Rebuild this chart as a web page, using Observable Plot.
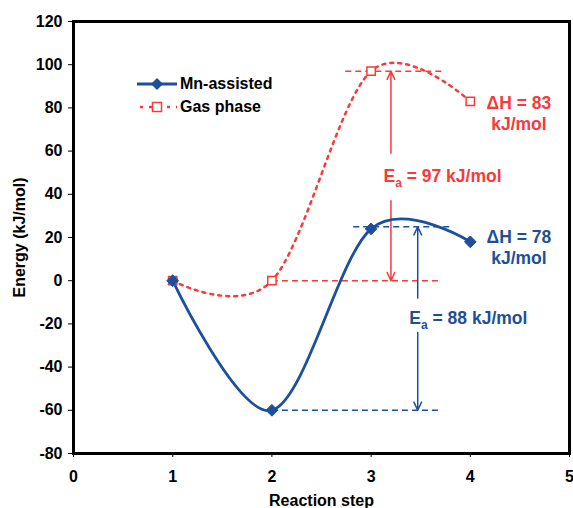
<!DOCTYPE html>
<html>
<head>
<meta charset="utf-8">
<script src="https://cdn.jsdelivr.net/npm/d3@7"></script>
<script src="https://cdn.jsdelivr.net/npm/@observablehq/plot@0.6"></script>
<style>
  body { margin: 0; background: #fff; }
  #wrap { position: relative; width: 573px; height: 508px; font-family: "Liberation Sans", Arial, sans-serif; }
  #legend { position: absolute; left: 137px; top: 72px; font-weight: bold; font-size: 16px; color: #000; }
  #legend .row { display: flex; align-items: center; height: 23px; }
  #legend svg { margin-right: 3px; }
</style>
</head>
<body>
<div id="wrap"></div>
<script>
// ---- data ----
const steps = [1, 2, 3, 4];
const mnEnergy = [0, -60, 24, 18];
const gasEnergy = [0, 0, 97, 83];
const seriesNames = ["Mn-assisted", "Gas phase"];
const xTicks = [0, 1, 2, 3, 4, 5];
const yTicks = [-80, -60, -40, -20, 0, 20, 40, 60, 80, 100, 120];

// reference (dashed) levels
const refSeries = ["gas", "gas", "mn", "mn"];
const refY = [97, 0, 25, -60];
const refXStart = [2.74, 2.0, 2.82, 2.0];
const refXEnd = [3.73, 3.70, 3.82, 3.68];

// arrows (energy spans, split around the label)
const arrSeries = ["gas", "gas", "mn", "mn"];
const arrX = [3.2, 3.2, 3.47, 3.47];
const arrFrom = [59, 37, -8, -24];
const arrTo = [97, 0, 25, -60];

// labels
const labSeries = ["gas", "gas", "mn", "mn"];
const labText = ["ΔH = 83\nkJ/mol", "Ea = 97 kJ/mol", "ΔH = 78\nkJ/mol", "Ea = 88 kJ/mol"];
const labX = [4.49, 3.72, 4.49, 3.98];
const labY = [77.8, 48.7, 15.8, -17];

const BLUE = "#1c4f9c";
const RED = "#f73a3a";
const col = s => s === "gas" ? RED : BLUE;

const mnData = steps.map((s, i) => ({x: s, y: mnEnergy[i]}));
const gasData = steps.map((s, i) => ({x: s, y: gasEnergy[i]}));
const refs = refY.map((y, i) => ({y, x1: refXStart[i], x2: refXEnd[i], s: refSeries[i]}));
const arrows = arrX.map((x, i) => ({x, y1: arrFrom[i], y2: arrTo[i], s: arrSeries[i]}));
const labels = labText.map((t, i) => ({t, x: labX[i], y: labY[i], s: labSeries[i]}));

const chart = Plot.plot({
  width: 573,
  height: 508,
  marginLeft: 73,
  marginTop: 21,
  marginRight: 4,
  marginBottom: 55,
  style: {fontFamily: "'Liberation Sans', Arial, sans-serif", fontSize: "16px", fontWeight: "bold", color: "#000", background: "#fff"},
  x: {domain: [0, 5]},
  y: {domain: [-80, 120]},
  marks: [
    Plot.axisY({ticks: yTicks, tickFormat: d => String(d), tickSize: 5, tickPadding: 6, fontSize: 16, fontWeight: "bold",
      label: "Energy (kJ/mol)", labelAnchor: "center", labelOffset: 60, labelArrow: "none"}),
    Plot.axisX({ticks: xTicks, tickFormat: d => String(d), tickSize: 4, tickPadding: 13, fontSize: 16, fontWeight: "bold",
      label: "Reaction step", labelAnchor: "center", labelOffset: 52, labelArrow: "none"}),
    Plot.link(refs.filter(d => d.s === "gas"), {x1: "x1", x2: "x2", y1: "y", y2: "y", stroke: RED, strokeWidth: 1.5, strokeDasharray: "6,4"}),
    Plot.link(refs.filter(d => d.s === "mn"), {x1: "x1", x2: "x2", y1: "y", y2: "y", stroke: BLUE, strokeWidth: 1.5, strokeDasharray: "6,4"}),
    Plot.arrow(arrows, {x: "x", y1: "y1", y2: "y2", stroke: d => col(d.s), strokeWidth: 1.5, headLength: 9, headAngle: 50}),
    Plot.line(gasData, {x: "x", y: "y", curve: "cardinal", tension: 0, stroke: RED, strokeWidth: 2.5, strokeDasharray: "3,5"}),
    Plot.line(mnData, {x: "x", y: "y", curve: "cardinal", tension: 0, stroke: BLUE, strokeWidth: 2.8}),
    Plot.dot(gasData, {x: "x", y: "y", symbol: "square", r: 4.7, fill: "white", stroke: RED, strokeWidth: 1.5}),
    Plot.dot(mnData, {x: "x", y: "y", symbol: "diamond2", r: 5.3, fill: BLUE, stroke: BLUE, strokeWidth: 1}),
    Plot.text(labels, {x: "x", y: "y", text: "t", fill: d => col(d.s), fontSize: 17.5, fontWeight: "bold", lineHeight: 1.2, textAnchor: "middle"}),
    Plot.frame({stroke: "black", strokeWidth: 3})
  ]
});

// subscript "a" in E_a labels
d3.select(chart).selectAll("text").each(function() {
  const t = this.textContent;
  if (/^Ea = /.test(t) && this.childElementCount === 0) {
    const sel = d3.select(this);
    sel.text(null);
    sel.append("tspan").text("E");
    sel.append("tspan").attr("dy", 5).attr("font-size", "12px").text("a");
    sel.append("tspan").attr("dy", -5).text(t.slice(2));
  }
});

const wrap = document.getElementById("wrap");
wrap.appendChild(chart);

// legend
const legend = document.createElement("div");
legend.id = "legend";
legend.innerHTML =
  `<div class="row"><svg width="40" height="14"><line x1="0" x2="40" y1="7" y2="7" stroke="${BLUE}" stroke-width="2.8"/><path d="M20,1 L26,7 L20,13 L14,7 Z" fill="${BLUE}"/></svg><span>${seriesNames[0]}</span></div>` +
  `<div class="row"><svg width="40" height="14"><line x1="3" x2="40" y1="7" y2="7" stroke="${RED}" stroke-width="2.5" stroke-dasharray="3,6"/><rect x="15.5" y="2.5" width="9" height="9" fill="white" stroke="${RED}" stroke-width="1.5"/></svg><span>${seriesNames[1]}</span></div>`;
wrap.appendChild(legend);
</script>
</body>
</html>
